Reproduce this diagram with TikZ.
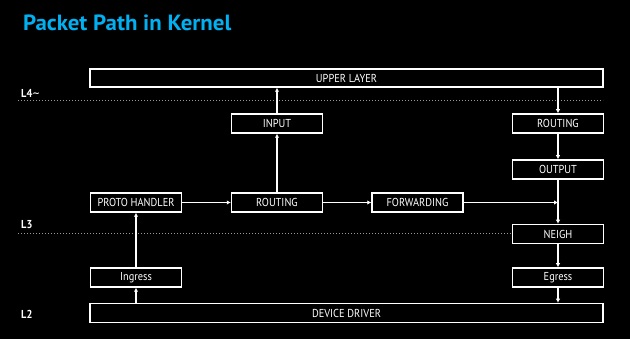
\documentclass[tikz,border=0pt]{standalone}
\usepackage{fontspec}
\setmainfont{PT Sans}[FakeStretch=0.9]
\newfontfamily\titlefont{PT Sans}[FakeStretch=1.04]
\newfontfamily\symfont{DejaVu Sans}
\usetikzlibrary{arrows.meta}
\definecolor{titlecyan}{HTML}{00B0F0}
\begin{document}
\begin{tikzpicture}[x=1pt,y=-1pt,
  box/.style={draw=white, line width=1.5pt, text=white, minimum height=19pt, inner sep=0pt, font=\fontsize{11.5}{13}\selectfont},
  sbox/.style={box, minimum width=91pt},
  wbox/.style={box, minimum width=513pt},
  conn/.style={draw=white, line width=1.5pt, -{Latex[length=4pt,width=4.5pt]}},
  layer/.style={draw=gray!80, line width=1pt, dotted},
  lbl/.style={text=white, font=\bfseries\fontsize{11.5}{13}\selectfont, anchor=west, inner sep=0pt}]
\fill[black] (0,0) rectangle (630,339);
\useasboundingbox (0,0) rectangle (630,339);
\node[anchor=base west, inner sep=0pt, text=titlecyan, font=\titlefont\bfseries\fontsize{22}{26}\selectfont] (title) at (23,31) {Packet Path in Kernel};
% layer lines and labels
\node[lbl] (l4) at (21,93) {L4{\symfont\fontsize{9}{10}\selectfont\raisebox{0.5pt}{\textasciitilde}}};
\node[lbl] (l3) at (21,225) {L3};
\node[lbl] (l2) at (21,314) {L2};
% boxes
\node[wbox, minimum height=18pt] (upper) at (346.5,78) {UPPER LAYER};
\node[sbox] (input) at (277,123.5) {INPUT};
\node[sbox] (routr) at (558,123.5) {ROUTING};
\node[sbox] (output) at (558,169.5) {OUTPUT};
\node[sbox] (proto) at (136,202.5) {PROTO HANDLER};
\node[sbox] (rout) at (277,202.5) {ROUTING};
\node[sbox] (fwd) at (417.5,202.5) {FORWARDING};
\node[sbox] (neigh) at (558,234) {NEIGH};
\node[sbox] (ingress) at (136,277.5) {Ingress};
\node[sbox] (egress) at (558,277.5) {Egress};
\node[wbox] (dd) at (346.5,313) {DEVICE DRIVER};
\coordinate (l4end) at (603,101);
\coordinate (l4start) at (18,101);
\coordinate (l3start) at (18,234);
\draw[layer] (l4start) -- (l4end);
\draw[layer] (l3start) -- (neigh.west);
% connectors
\draw[conn] (dd.north -| ingress) -- (ingress.south);
\draw[conn] (ingress.north) -- (proto.south);
\draw[conn] (proto.east) -- (rout.west);
\draw[conn] (rout.north) -- (input.south);
\draw[conn] (input.north) -- (input.north |- upper.south);
\draw[conn] (rout.east) -- (fwd.west);
\coordinate (join) at (fwd.east -| routr);
\draw[conn] (fwd.east) -- (join);
\draw[conn] (upper.south -| routr) -- (routr.north);
\draw[conn] (routr.south) -- (output.north);
\draw[conn] (output.south) -- (neigh.north);
\draw[conn] (neigh.south) -- (egress.north);
\draw[conn] (egress.south) -- (egress.south |- dd.north);
\end{tikzpicture}
\end{document}
